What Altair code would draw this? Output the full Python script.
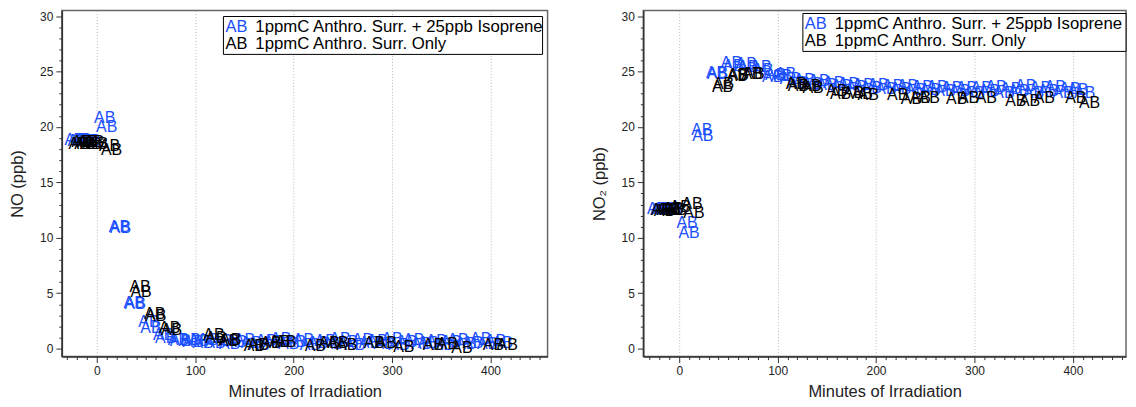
import altair as alt
import pandas as pd

FONT = "Liberation Sans"
series_names = ["1ppmC Anthro. Surr. + 25ppb Isoprene", "1ppmC Anthro. Surr. Only"]
series_colors = ["#1a4fff", "#000000"]

# Series 1: 1ppmC Anthro. Surr. + 25ppb Isoprene (blue)
iso_t = [-22, -19, -16, -13, -10, -7, 8, 10, 23, 24, 38, 39, 53, 55, 68, 70, 83, 85, 95, 98, 104, 108,
         113, 120, 127, 135, 142, 150, 157, 165, 172, 180, 187, 195, 202, 210, 217, 225, 232, 240, 247, 255,
         262, 270, 277, 285, 292, 300, 307, 315, 322, 330, 337, 345, 352, 360, 367, 375, 382, 390, 397, 405, 412]
iso_no = [18.8, 18.7, 18.8, 18.7, 18.6, 18.7,
          20.8, 20.0, 11.0, 10.9, 4.1, 4.0, 2.4, 1.9, 1.2, 1.0, 0.8, 0.7, 0.8, 0.6, 0.7, 0.5,
          0.8, 0.5, 0.7, 0.4, 0.6, 0.8, 0.5, 0.3, 0.7, 0.6, 0.9, 0.4, 0.6, 0.8, 0.3, 0.5, 0.7, 0.4, 0.9, 0.6,
          0.3, 0.8, 0.5, 0.7, 0.4, 0.9, 0.3, 0.6, 0.8, 0.4, 0.5, 0.7, 0.3, 0.6, 0.8, 0.4, 0.5, 0.9, 0.4, 0.7, 0.5]
iso_no2 = [12.6, 12.5, 12.6, 12.5, 12.6, 12.5,
           11.3, 10.4, 19.7, 19.2, 24.9, 24.8, 25.8, 25.5, 25.7, 25.4, 25.4, 25.1, 24.5, 24.7, 24.6, 24.8,
           24.3, 24.0, 24.2, 23.9, 24.1, 23.8, 24.0, 23.7, 23.9, 23.6, 23.8, 23.5, 23.8, 23.4, 23.7, 23.4, 23.7, 23.3, 23.6, 23.3,
           23.6, 23.2, 23.5, 23.2, 23.5, 23.1, 23.5, 23.2, 23.6, 23.1, 23.4, 23.2, 23.7, 23.1, 23.5, 23.2, 23.6, 23.1, 23.4, 23.3, 23.1]

# Series 2: 1ppmC Anthro. Surr. Only (black)
only_t = [-18, -15, -12, -9, -6, -3, 1, 13, 15, 44, 45, 59, 60, 74, 76, 119, 121, 134, 136,
          160, 164, 177, 186, 192, 222, 236, 245, 254, 282, 294, 312, 342, 356, 371, 403, 417]
only_no = [18.5, 18.6, 18.5, 18.6, 18.5, 18.6, 18.5, 18.3, 17.9, 5.6, 5.1, 3.1, 2.9, 1.9, 1.7, 1.2, 1.0, 0.7, 0.8,
           0.25, 0.3, 0.5, 0.6, 0.6, 0.2, 0.5, 0.5, 0.35, 0.5, 0.5, 0.1, 0.35, 0.4, 0.05, 0.3, 0.3]
only_no2 = [12.5, 12.4, 12.5, 12.5, 12.6, 12.5, 12.8, 13.05, 12.2, 23.6, 23.9, 24.6, 24.7, 24.8, 24.8, 23.9, 23.7, 23.7, 23.5,
            23.2, 23.0, 23.1, 23.0, 22.9, 22.9, 22.5, 22.6, 22.6, 22.5, 22.6, 22.6, 22.3, 22.3, 22.6, 22.6, 22.2]

x_ticks = list(range(-30, 451, 10))
y_ticks = list(range(0, 31, 1))

df = pd.concat([
    pd.DataFrame({"t": iso_t, "NO": iso_no, "NO2": iso_no2, "series": series_names[0]}),
    pd.DataFrame({"t": only_t, "NO": only_no, "NO2": only_no2, "series": series_names[1]}),
], ignore_index=True)

H = 347
YDOM = [-0.72, 30.5]


def x_axis():
    return alt.Axis(
        title="Minutes of Irradiation", values=x_ticks,
        labelExpr="datum.value % 100 === 0 ? datum.label : ''",
        tickSize={"condition": {"test": "datum.value % 100 === 0", "value": 6}, "value": 3},
        grid=True, gridDash=[1, 2], gridColor="#b8b8b8", gridWidth=1,
        gridOpacity={"condition": {"test": "datum.value % 100 === 0", "value": 1}, "value": 0},
        labelOverlap=False, labelPadding=3, titlePadding=7,
    )


def y_axis(title):
    return alt.Axis(
        title=title, values=y_ticks,
        labelExpr="datum.value % 5 === 0 ? datum.label : ''",
        tickSize={"condition": {"test": "datum.value % 5 === 0", "value": 6}, "value": 3},
        grid=False, labelOverlap=False, labelPadding=3, titlePadding=14,
    )


def one():
    return alt.Chart(pd.DataFrame({"k": [0]}))


def legend(left, top, width):
    box = one().mark_rect(fill="white", stroke="black", strokeWidth=1).encode(
        x=alt.value(left), x2=alt.value(left + width), y=alt.value(top), y2=alt.value(top + 38))
    layers = [box]
    for i, (name, col) in enumerate(zip(series_names, series_colors)):
        yy = top + 11 + i * 17
        layers.append(one().mark_text(text="AB", align="left", baseline="middle", font=FONT,
                                      fontSize=16.5, color=col).encode(x=alt.value(left + 2), y=alt.value(yy)))
        layers.append(one().mark_text(text=name, align="left", baseline="middle", font=FONT,
                                      fontSize=16.8, color="black").encode(x=alt.value(left + 32), y=alt.value(yy)))
    return layers


def panel(field, title, width, xdom, leg_left, leg_top, leg_w):
    pts = alt.Chart(df).mark_text(text="AB", font=FONT, fontSize=16, baseline="middle").encode(
        x=alt.X("t:Q", scale=alt.Scale(domain=xdom, nice=False, zero=False), axis=x_axis()),
        y=alt.Y(f"{field}:Q", scale=alt.Scale(domain=YDOM, nice=False, zero=False), axis=y_axis(title)),
        color=alt.Color("series:N", scale=alt.Scale(domain=series_names, range=series_colors), legend=None),
    )
    return alt.layer(pts, *legend(leg_left, leg_top, leg_w)).properties(width=width, height=H)


left = panel("NO", "NO (ppb)", 487, [-35.5, 458], 162, 6, 320)
right = panel("NO2", "NO\u2082 (ppb)", 484, [-36.5, 454], 160, 3, 324)

chart = alt.hconcat(left, right, spacing=41).properties(
    padding={"left": 0, "top": 0, "right": 0, "bottom": 0}
).configure(font=FONT).configure_view(
    stroke="#666666", strokeWidth=1.5
).configure_axis(
    domainColor="#333333", domainWidth=1.5, tickColor="#333333", tickWidth=1,
    labelFont=FONT, labelFontSize=12, labelColor="#222222",
    titleFont=FONT, titleFontSize=16.5, titleFontWeight="normal", titleColor="#222222",
)

chart.save("out.html", embed_options={"renderer": "svg", "actions": False})
